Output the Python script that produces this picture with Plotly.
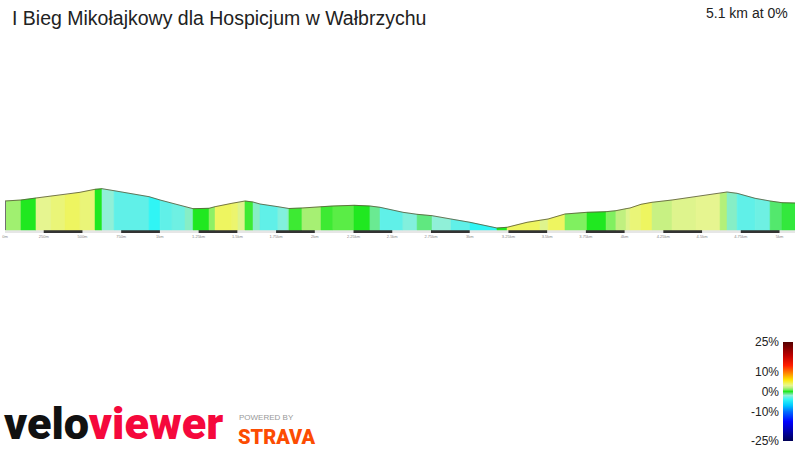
import plotly.graph_objects as go
from plotly.colors import sample_colorscale

TITLE = "I Bieg Mikołajkowy dla Hospicjum w Wałbrzychu"
SUMMARY = "5.1 km at 0%"
TOTAL_KM = 5.1
BASE_ELEV = 430

# segment boundaries (km) and elevation (m) at each boundary
DIST_KM = [0.000, 0.103, 0.200, 0.297, 0.387, 0.484, 0.581, 0.626, 0.704, 0.930,
           1.001, 1.078, 1.162, 1.214, 1.317, 1.356, 1.465, 1.504, 1.549, 1.601,
           1.646, 1.762, 1.821, 1.833, 1.917, 2.040, 2.117, 2.253, 2.356, 2.421,
           2.569, 2.660, 2.757, 2.879, 3.002, 3.176, 3.241, 3.370, 3.454, 3.506,
           3.615, 3.757, 3.880, 3.944, 4.009, 4.035, 4.106, 4.177, 4.306, 4.461,
           4.616, 4.661, 4.726, 4.842, 4.939, 5.016, 5.100]
ELEV_M = [459.0, 460.0, 462.0, 464.0, 465.3, 467.7, 470.7, 471.3, 469.3, 463.3,
          460.0, 456.7, 453.3, 451.3, 451.7, 453.3, 456.7, 457.7, 459.0, 458.0,
          456.0, 453.3, 451.7, 451.5, 452.0, 453.3, 454.0, 454.7, 454.0, 452.7,
          447.7, 445.7, 444.3, 441.0, 437.7, 432.0, 432.7, 437.7, 440.0, 441.0,
          446.0, 447.7, 448.3, 449.3, 451.3, 452.0, 455.7, 457.7, 460.0, 463.3,
          466.7, 468.0, 466.7, 461.7, 459.0, 457.3, 457.0]
# gradient (%) of each segment between consecutive boundaries
GRADE_PCT = [1.5, 0, 3, 3.5, 4, 3.5, 0, -2, -3, -4,
             -3, -2.7, -1.8, 0, 1.2, 4, 3.7, 2.8, 0.3, -1.8,
             -3, -2.3, -1.8, 0.3, 1.6, 0.3, 0.6, 0, -1.2, -3,
             -2.3, -1, -2, -3, -4, 0, 4, 4, 2.8, 4,
             1, 0, 1, 2, 2.8, 3.5, 4, 2.2, 2.8, 3,
             1.8, -1.8, -3, -2.7, -0.8, -0.3]

TICK_KM = [0, 0.25, 0.5, 0.75, 1.0, 1.25, 1.5, 1.75, 2.0, 2.25, 2.5,
           2.75, 3.0, 3.25, 3.5, 3.75, 4.0, 4.25, 4.5, 4.75, 5.0]
TICK_LABELS = ["0m", "250m", "500m", "750m", "1km", "1.25km", "1.5km", "1.75km",
               "2km", "2.25km", "2.5km", "2.75km", "3km", "3.25km", "3.5km",
               "3.75km", "4km", "4.25km", "4.5km", "4.75km", "5km"]

SCALE_TICKS = [-25, -10, 0, 10, 25]
SCALE_LABELS = ["-25%", "-10%", "0%", "10%", "25%"]
GRADE_MIN, GRADE_MAX = -25, 25

GRADE_STOPS = [(-25, "rgb(0,0,80)"), (-20, "rgb(0,0,170)"), (-15, "rgb(0,0,255)"),
               (-10, "rgb(0,110,255)"), (-7, "rgb(0,200,255)"), (-4, "rgb(48,245,245)"),
               (-3, "rgb(96,240,232)"), (-2, "rgb(144,240,216)"), (-1, "rgb(96,232,128)"),
               (0, "rgb(32,232,32)"), (1, "rgb(128,240,96)"), (2, "rgb(192,240,128)"),
               (3, "rgb(230,245,144)"), (4, "rgb(238,245,96)"), (6, "rgb(255,225,0)"),
               (9, "rgb(255,140,0)"), (13, "rgb(255,30,0)"), (18, "rgb(190,0,0)"),
               (25, "rgb(80,0,0)")]
COLORSCALE = [[(g - GRADE_MIN) / (GRADE_MAX - GRADE_MIN), c] for g, c in GRADE_STOPS]


def grade_color(g):
    return sample_colorscale(COLORSCALE, [(g - GRADE_MIN) / (GRADE_MAX - GRADE_MIN)])[0]


fig = go.Figure()

for i, g in enumerate(GRADE_PCT):
    c = grade_color(g)
    x0, x1 = DIST_KM[i], DIST_KM[i + 1]
    fig.add_trace(go.Scatter(
        x=[x0, x0, x1, x1, x0], y=[BASE_ELEV, ELEV_M[i], ELEV_M[i + 1], BASE_ELEV, BASE_ELEV],
        fill="toself", fillcolor=c, mode="lines", line=dict(color=c, width=0.5),
        hoverinfo="skip", showlegend=False))

# outline of the profile
fig.add_trace(go.Scatter(x=DIST_KM, y=ELEV_M, mode="lines",
                         line=dict(color="rgba(85,85,50,0.8)", width=1),
                         hoverinfo="skip", showlegend=False))
# start edge
fig.add_trace(go.Scatter(x=[DIST_KM[0], DIST_KM[0]], y=[BASE_ELEV, ELEV_M[0]], mode="lines",
                         line=dict(color="#707070", width=2),
                         hoverinfo="skip", showlegend=False))

# grade scale
scale_vals = [GRADE_MIN + 0.5 * k for k in range(int((GRADE_MAX - GRADE_MIN) / 0.5) + 1)]
fig.add_trace(go.Heatmap(x=[0], y=scale_vals, z=[[v] for v in scale_vals],
                         colorscale=COLORSCALE, zmin=GRADE_MIN, zmax=GRADE_MAX,
                         showscale=False, hoverinfo="skip", xaxis="x2", yaxis="y2"))

# distance ruler
shapes = [dict(type="rect", xref="x", yref="y", x0=0, x1=TOTAL_KM,
               y0=BASE_ELEV - 3, y1=BASE_ELEV, fillcolor="#e6e6e6", line=dict(width=0),
               layer="below")]
for i in range(1, len(TICK_KM) - 1, 2):
    shapes.append(dict(type="rect", xref="x", yref="y", x0=TICK_KM[i], x1=TICK_KM[i + 1],
                       y0=BASE_ELEV - 3, y1=BASE_ELEV, fillcolor="#333333",
                       line=dict(width=0), layer="below"))

W, H, ML, MR = 800, 450, 5, 5
PW = W - ML - MR


def px(xp):
    return (xp - ML) / PW


def py(yp):
    return 1 - yp / H


annotations = [
    dict(text=TITLE, x=px(10), y=py(18.5), xref="paper", yref="paper", xanchor="left",
         yanchor="middle", showarrow=False,
         font=dict(family="Liberation Sans, Arial", size=19.5, color="#222222")),
    dict(text=SUMMARY, x=px(790), y=py(12.5), xref="paper", yref="paper", xanchor="right",
         yanchor="middle", showarrow=False,
         font=dict(family="Liberation Sans, Arial", size=14, color="#222222")),
    dict(text="<span style='color:#111111'>velo</span><span style='color:#f5083c'>viewer</span>",
         x=px(2), y=py(423), xref="paper", yref="paper", xanchor="left", yanchor="middle",
         showarrow=False, font=dict(family="Roboto, Liberation Sans", size=45, weight=900)),
    dict(text="POWERED BY", x=px(237), y=py(417.5), xref="paper", yref="paper", xanchor="left",
         yanchor="middle", showarrow=False,
         font=dict(family="Liberation Sans, Arial", size=8, color="#999999")),
    dict(text="STRAVA", x=px(236), y=py(436.5), xref="paper", yref="paper",
         xanchor="left", yanchor="middle", showarrow=False,
         font=dict(family="Roboto, Liberation Sans", size=20, weight=900, color="#fc4c02")),
]

fig.update_layout(
    template="none",
    width=W, height=H, margin=dict(l=ML, r=MR, t=0, b=0, autoexpand=False),
    paper_bgcolor="white", plot_bgcolor="white",
    shapes=shapes, annotations=annotations, showlegend=False,
    xaxis=dict(range=[0, TOTAL_KM], domain=[0, 1], tickvals=TICK_KM, ticktext=TICK_LABELS,
               tickfont=dict(size=4, color="#888888", family="Liberation Sans"),
               showgrid=False, zeroline=False, showline=False, ticks="", anchor="y",
               automargin=False, fixedrange=True),
    yaxis=dict(range=[BASE_ELEV - 3, BASE_ELEV + 50], domain=[py(233), py(180)],
               visible=False, automargin=False, fixedrange=True),
    xaxis2=dict(domain=[px(783), px(793)], visible=False, anchor="y2", automargin=False,
                fixedrange=True),
    yaxis2=dict(domain=[py(441), py(342)], range=[GRADE_MIN, GRADE_MAX], anchor="x2",
                side="left", tickvals=SCALE_TICKS, ticktext=SCALE_LABELS, ticks="",
                showgrid=False, zeroline=False, showline=False, ticklabelstandoff=3,
                automargin=False,
                tickfont=dict(size=12, color="#222222", family="Liberation Sans, Arial"),
                fixedrange=True),
)

fig.write_html("out.html", config={"displayModeBar": False},
               post_script="document.body.style.margin='0';document.body.style.padding='0';")
